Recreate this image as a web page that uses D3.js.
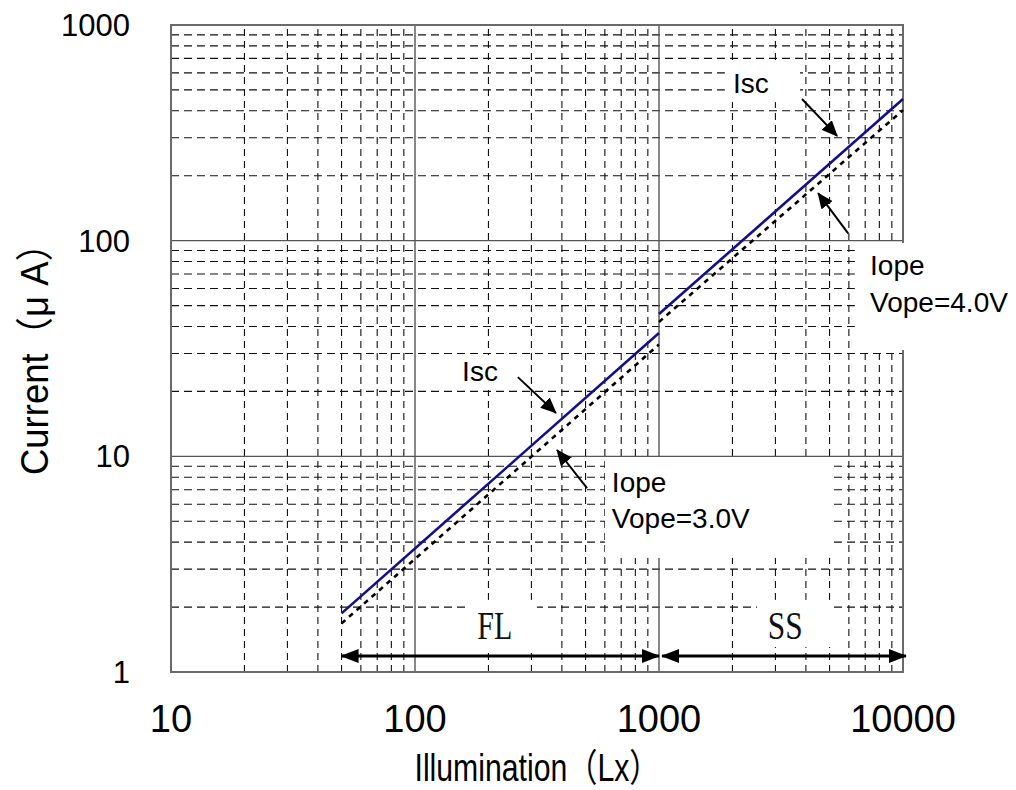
<!DOCTYPE html>
<html>
<head>
<meta charset="utf-8">
<script src="https://cdn.jsdelivr.net/npm/d3@7/dist/d3.min.js"></script>
<style>
  body { margin: 0; background: #fff; }
  svg { display: block; }
  .tick-x { font-family: "Liberation Sans", Arial, sans-serif; font-size: 38px; }
  .tick-y { font-family: "Liberation Sans", Arial, sans-serif; font-size: 31px; }
  .title { font-family: "Liberation Sans", "Noto Sans CJK JP", sans-serif; font-size: 38px; }
  .note { font-family: "Liberation Sans", Arial, sans-serif; font-size: 28px; }
  .band { font-family: "Liberation Serif", "Times New Roman", serif; font-size: 39px; }
</style>
</head>
<body>
<svg class="chart"></svg>
<script>
// Total dimensions
var w = 1016,
    h = 790;

// axis ticks
var xTicks = [10, 100, 1000, 10000];
var yTicks = [1, 10, 100, 1000];

// FL range (fluorescent lamp), 50 - 1000 Lx
var luxFL  = [50, 1000];
var iscFL  = [1.87, 37.3];
var iopeFL = [1.68, 33.0];

// SS range (sunlight), 1000 - 10000 Lx
var luxSS  = [1000, 10000];
var iscSS  = [45.7, 454];
var iopeSS = [42.0, 403];

// range bars
var bandNames = ["FL", "SS"];
var bandFrom  = [50, 1000];
var bandTo    = [1000, 10000];

var svg = d3.select(".chart")
    .attr("width", w)
    .attr("height", h);

var margin = { top: 25, right: 113, bottom: 118, left: 171 },
    width = w - margin.left - margin.right,
    height = h - margin.top - margin.bottom;

var x = d3.scaleLog().domain([10, 10000]).range([margin.left, margin.left + width]);
var y = d3.scaleLog().domain([1, 1000]).range([margin.top + height, margin.top]);

// minor / major grid values
var minorX = [], minorY = [];
[10, 100, 1000].forEach(function(d) {
    for (var k = 2; k <= 9; k++) minorX.push(d * k);
});
[1, 10, 100].forEach(function(d) {
    for (var k = 2; k <= 9; k++) minorY.push(d * k);
});
var majorX = [100, 1000], majorY = [10, 100];

var grid = svg.append("g");

grid.selectAll(".mx").data(minorX).enter().append("line")
    .attr("x1", function(d) { return x(d); }).attr("x2", function(d) { return x(d); })
    .attr("y1", y(1)).attr("y2", y(1000))
    .attr("stroke", "#111").attr("stroke-width", 1.1)
    .attr("stroke-dasharray", "7,5");

grid.selectAll(".my").data(minorY).enter().append("line")
    .attr("y1", function(d) { return y(d); }).attr("y2", function(d) { return y(d); })
    .attr("x1", x(10)).attr("x2", x(10000))
    .attr("stroke", "#111").attr("stroke-width", 1.1)
    .attr("stroke-dasharray", "8,5");

grid.selectAll(".Mx").data(majorX).enter().append("line")
    .attr("x1", function(d) { return x(d); }).attr("x2", function(d) { return x(d); })
    .attr("y1", y(1)).attr("y2", y(1000))
    .attr("stroke", "#555").attr("stroke-width", 1.4);

grid.selectAll(".My").data(majorY).enter().append("line")
    .attr("y1", function(d) { return y(d); }).attr("y2", function(d) { return y(d); })
    .attr("x1", x(10)).attr("x2", x(10000))
    .attr("stroke", "#555").attr("stroke-width", 1.4);

grid.append("rect")
    .attr("x", x(10)).attr("y", y(1000))
    .attr("width", x(10000) - x(10)).attr("height", y(1) - y(1000))
    .attr("fill", "none").attr("stroke", "#6a6a6a").attr("stroke-width", 2);

// white label boxes (in data units: lux0, lux1, uA top, uA bottom)
var boxes = [
    [146, 282, 29.5, 20.3],
    [1862, 3785, 688, 439],
    [601, 5120, 9.93, 3.38],
    [6350, 29000, 97.5, 31.1],
    [168, 316, 2.16, 1.265],
    [2520, 5120, 2.16, 1.306]
];
svg.append("g").selectAll("rect").data(boxes).enter().append("rect")
    .attr("x", function(d) { return x(d[0]); })
    .attr("y", function(d) { return y(d[2]); })
    .attr("width", function(d) { return x(d[1]) - x(d[0]); })
    .attr("height", function(d) { return y(d[3]) - y(d[2]); })
    .attr("fill", "#fff");

// series
var line = d3.line()
    .x(function(d) { return x(d[0]); })
    .y(function(d) { return y(d[1]); });

function pairs(xs, ys) { return xs.map(function(v, i) { return [v, ys[i]]; }); }

[pairs(luxFL, iopeFL), pairs(luxSS, iopeSS)].forEach(function(s) {
    svg.append("path").datum(s)
        .attr("fill", "none").attr("stroke", "#000")
        .attr("stroke-width", 2.6).attr("stroke-dasharray", "5,5")
        .attr("d", line);
});
[pairs(luxFL, iscFL), pairs(luxSS, iscSS)].forEach(function(s) {
    svg.append("path").datum(s)
        .attr("fill", "none").attr("stroke", "#10108a")
        .attr("stroke-width", 2.6)
        .attr("d", line);
});

// arrow markers
var defs = svg.append("defs");
defs.append("marker")
    .attr("id", "head").attr("markerUnits", "userSpaceOnUse")
    .attr("viewBox", "0 -7 18 14").attr("refX", 17).attr("refY", 0)
    .attr("markerWidth", 18).attr("markerHeight", 14).attr("orient", "auto-start-reverse")
    .append("path").attr("d", "M0,-7L18,0L0,7Z").attr("fill", "#000");
defs.append("marker")
    .attr("id", "head2").attr("markerUnits", "userSpaceOnUse")
    .attr("viewBox", "0 -7 16 14").attr("refX", 15).attr("refY", 0)
    .attr("markerWidth", 16).attr("markerHeight", 14).attr("orient", "auto-start-reverse")
    .append("path").attr("d", "M0,-7L16,0L0,7Z").attr("fill", "#000");

// pointer arrows: [tail lux, tail uA, tip lux, tip uA]
var pointers = [
    [3855, 454, 5370, 306],
    [5960, 108, 4490, 166],
    [264, 23.3, 378, 15.9],
    [507, 7.13, 382, 10.7]
];
svg.append("g").selectAll("line").data(pointers).enter().append("line")
    .attr("x1", function(d) { return x(d[0]); }).attr("y1", function(d) { return y(d[1]); })
    .attr("x2", function(d) { return x(d[2]); }).attr("y2", function(d) { return y(d[3]); })
    .attr("stroke", "#000").attr("stroke-width", 2)
    .attr("marker-end", "url(#head2)");

// range bars FL / SS
var bandY = 1.186;
svg.append("g").selectAll("line").data(bandNames).enter().append("line")
    .attr("x1", function(d, i) { return x(bandFrom[i]) + (i ? 3 : 0); })
    .attr("x2", function(d, i) { return x(bandTo[i]) + (i ? 3 : 0); })
    .attr("y1", y(bandY)).attr("y2", y(bandY))
    .attr("stroke", "#000").attr("stroke-width", 3)
    .attr("marker-start", "url(#head)").attr("marker-end", "url(#head)");

svg.append("g").selectAll("text").data(bandNames).enter().append("text")
    .attr("class", "band")
    .attr("x", function(d, i) { return x(Math.sqrt(bandFrom[i] * bandTo[i]) * (i ? 1.04 : 0.95)); })
    .attr("y", y(1.42))
    .attr("text-anchor", "middle")
    .attr("textLength", 35).attr("lengthAdjust", "spacingAndGlyphs")
    .attr("fill", "#111")
    .text(function(d) { return d; });

// text notes: [lux, uA baseline, text]
var notes = [
    [156, 22.4, "Isc"],
    [2010, 484, "Isc"],
    [641, 6.83, "Iope"],
    [641, 4.65, "Vope=3.0V"],
    [7330, 69.3, "Iope"],
    [7330, 46.7, "Vope=4.0V"]
];
svg.append("g").selectAll("text").data(notes).enter().append("text")
    .attr("class", "note")
    .attr("x", function(d) { return x(d[0]); })
    .attr("y", function(d) { return y(d[1]); })
    .text(function(d) { return d[2]; });

// tick labels
svg.append("g").selectAll("text").data(xTicks).enter().append("text")
    .attr("class", "tick-x")
    .attr("x", function(d) { return x(d); })
    .attr("y", 732)
    .attr("text-anchor", "middle")
    .text(function(d) { return d; });

svg.append("g").selectAll("text").data(yTicks).enter().append("text")
    .attr("class", "tick-y")
    .attr("x", 130)
    .attr("y", function(d) { return y(d) + 11; })
    .attr("text-anchor", "end")
    .text(function(d) { return d; });

// axis titles
svg.append("text")
    .attr("class", "title")
    .attr("x", 537).attr("y", 781)
    .attr("text-anchor", "middle")
    .attr("textLength", 245).attr("lengthAdjust", "spacingAndGlyphs")
    .text("Illumination（Lx）");

svg.append("text")
    .attr("class", "title")
    .attr("transform", "translate(48,350) rotate(-90)")
    .attr("text-anchor", "middle")
    .attr("textLength", 250).attr("lengthAdjust", "spacingAndGlyphs")
    .text("Current（μ A）");
</script>
</body>
</html>
